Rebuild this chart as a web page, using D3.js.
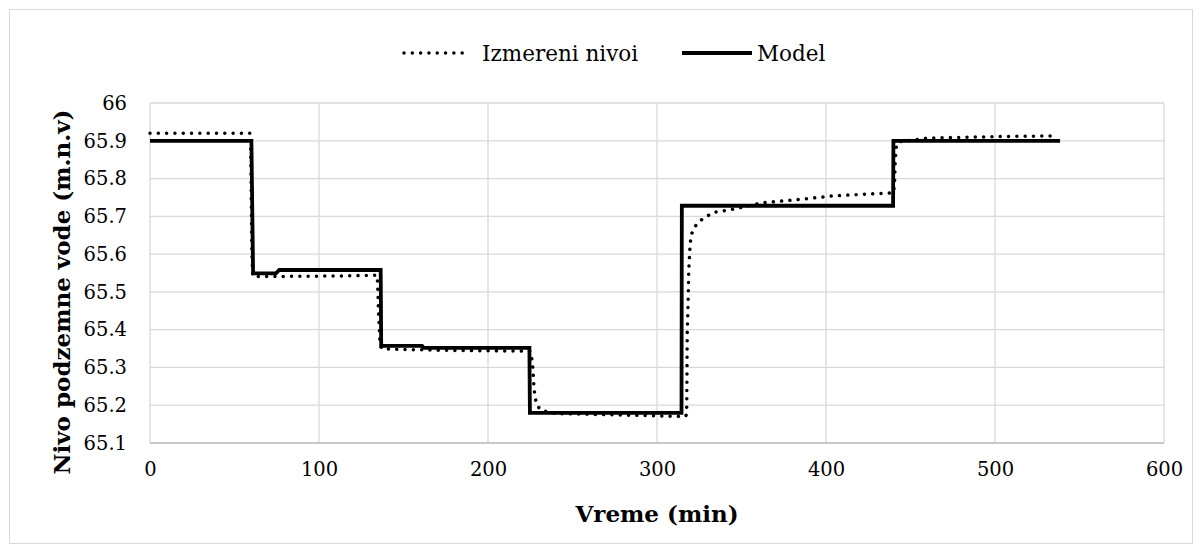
<!DOCTYPE html>
<html>
<head>
<meta charset="utf-8">
<script src="https://cdn.jsdelivr.net/npm/d3@7"></script>
<style>
html,body{margin:0;padding:0;background:#fff;}
svg{display:block;}
text{font-family:"DejaVu Serif","Liberation Serif",serif;fill:#000;}
</style>
</head>
<body>
<svg id="chart" width="1202" height="553"></svg>
<script>
// ---- data ----
const seriesNames = ["Izmereni nivoi", "Model"];
const xTicks = [0, 100, 200, 300, 400, 500, 600];
const yTicks = [65.1, 65.2, 65.3, 65.4, 65.5, 65.6, 65.7, 65.8, 65.9, 66];

const measuredTime  = [0, 59.5, 60.3, 60.8, 80, 110, 134.5, 135.2, 136, 137, 145, 180, 224.5, 225.2, 226.3, 227.2, 227.8, 228.8, 231.7, 240, 270, 300, 316.8, 317.3, 317.6, 317.9, 318.4, 318.8, 319.4, 320.1, 322.5, 325.4, 329.4, 334, 343, 362.8, 384.6, 404, 420, 435, 439.8, 440.5, 441, 441.8, 444, 447.7, 460, 500, 535];
const measuredLevel = [65.92, 65.92, 65.60, 65.541, 65.541, 65.542, 65.544, 65.45, 65.37, 65.35, 65.348, 65.345, 65.343, 65.342, 65.312, 65.248, 65.223, 65.20, 65.186, 65.178, 65.175, 65.172, 65.17, 65.174, 65.196, 65.393, 65.47, 65.558, 65.61, 65.65, 65.673, 65.688, 65.70, 65.711, 65.717, 65.736, 65.745, 65.754, 65.758, 65.761, 65.762, 65.78, 65.85, 65.893, 65.898, 65.90, 65.907, 65.911, 65.913];

const modelTime  = [0, 60, 61, 74.5, 76.5, 136.5, 136.8, 161, 162, 224.5, 224.8, 314.5, 314.7, 439.7, 439.9, 538.5];
const modelLevel = [65.90, 65.90, 65.549, 65.549, 65.558, 65.558, 65.357, 65.357, 65.352, 65.352, 65.18, 65.18, 65.728, 65.728, 65.90, 65.90];

// ---- layout ----
const svg = d3.select("#chart");
const W = 1202, H = 553;
const plot = {left: 150, top: 103, right: 1164, bottom: 443};

svg.append("rect").attr("x", 9.5).attr("y", 9.5).attr("width", W - 19).attr("height", H - 19)
  .attr("fill", "#fff").attr("stroke", "#d9d9d9").attr("stroke-width", 1);

const x = d3.scaleLinear().domain([0, 600]).range([plot.left, plot.right]);
const y = d3.scaleLinear().domain([65.1, 66]).range([plot.bottom, plot.top]);

// gridlines
const grid = svg.append("g");
grid.selectAll("line.h").data(yTicks).enter().append("line")
  .attr("x1", plot.left).attr("x2", plot.right)
  .attr("y1", d => y(d)).attr("y2", d => y(d))
  .attr("stroke", "#d9d9d9").attr("stroke-width", 1.3);
grid.selectAll("line.v").data(xTicks).enter().append("line")
  .attr("y1", plot.top).attr("y2", plot.bottom)
  .attr("x1", d => x(d)).attr("x2", d => x(d))
  .attr("stroke", "#d9d9d9").attr("stroke-width", 1.3);
svg.append("line").attr("x1", plot.left).attr("x2", plot.right)
  .attr("y1", plot.bottom).attr("y2", plot.bottom)
  .attr("stroke", "#bfbfbf").attr("stroke-width", 1.3);

// axes
const xAxis = d3.axisBottom(x).tickValues(xTicks).tickSize(0).tickPadding(19).tickFormat(d3.format("d"));
const gx = svg.append("g").attr("transform", `translate(0,${plot.bottom})`).call(xAxis);
gx.select(".domain").remove();
gx.selectAll("text").style("font-family", '"DejaVu Serif",serif').style("font-size", "19.5px");

const yAxis = d3.axisLeft(y).tickValues(yTicks).tickSize(0).tickPadding(23).tickFormat(d => d === 66 ? "66" : d3.format(".1f")(d));
const gy = svg.append("g").attr("transform", `translate(${plot.left},0)`).call(yAxis);
gy.select(".domain").remove();
gy.selectAll("text").style("font-family", '"DejaVu Serif",serif').style("font-size", "19.5px");

// lines
const measured = measuredTime.map((t, i) => [t, measuredLevel[i]]);
const model = modelTime.map((t, i) => [t, modelLevel[i]]);
const line = d3.line().x(d => x(d[0])).y(d => y(d[1]));

svg.append("path").datum(measured).attr("d", line)
  .attr("fill", "none").attr("stroke", "#000").attr("stroke-width", 3.5)
  .attr("stroke-linecap", "round").attr("stroke-dasharray", "0.01 8.3");
svg.append("path").datum(model).attr("d", line)
  .attr("fill", "none").attr("stroke", "#000").attr("stroke-width", 3.8)
  .attr("stroke-linejoin", "miter");

// legend
const lg = svg.append("g");
lg.append("line").attr("x1", 404).attr("x2", 467).attr("y1", 53).attr("y2", 53)
  .attr("stroke", "#000").attr("stroke-width", 3.5).attr("stroke-linecap", "round").attr("stroke-dasharray", "0.01 8.3");
lg.append("text").attr("x", 482).attr("y", 53).attr("dy", "0.35em").style("font-size", "21.5px").text(seriesNames[0]);
lg.append("line").attr("x1", 682).attr("x2", 752).attr("y1", 53).attr("y2", 53)
  .attr("stroke", "#000").attr("stroke-width", 3.8);
lg.append("text").attr("x", 757).attr("y", 53).attr("dy", "0.35em").style("font-size", "21.5px").text(seriesNames[1]);

// axis titles
svg.append("text").attr("x", (plot.left + plot.right) / 2).attr("y", 514).attr("dy", "0.35em")
  .attr("text-anchor", "middle").style("font-size", "23px").style("font-weight", "bold").text("Vreme (min)");
svg.append("text").attr("transform", "translate(62,292) rotate(-90)").attr("dy", "0.35em")
  .attr("text-anchor", "middle").style("font-size", "23px").style("font-weight", "bold").text("Nivo podzemne vode (m.n.v)");
</script>
</body>
</html>
